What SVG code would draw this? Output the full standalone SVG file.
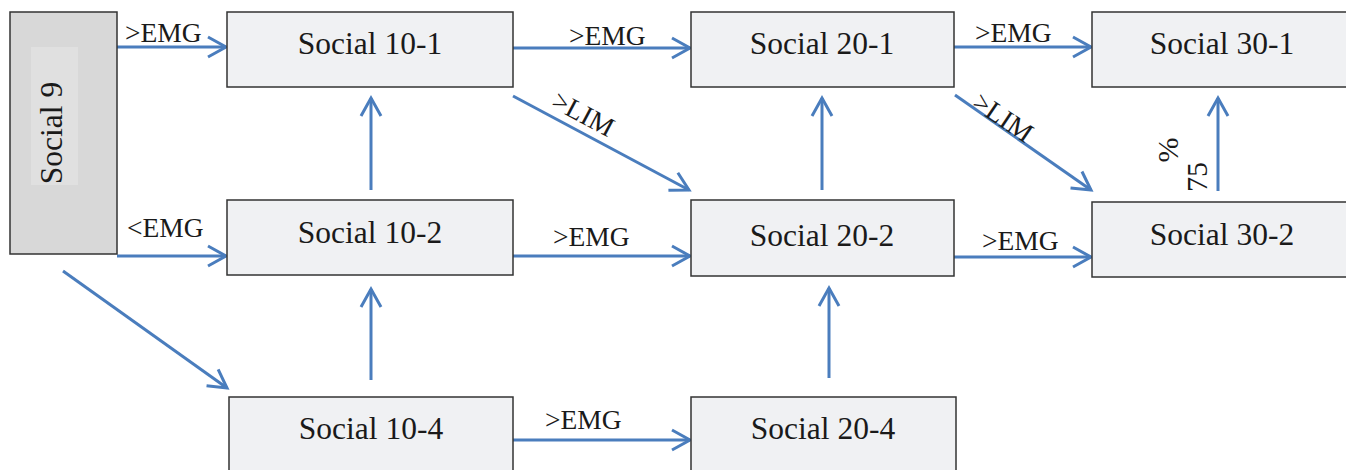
<svg xmlns="http://www.w3.org/2000/svg" width="1346" height="470" viewBox="0 0 1346 470">
<style>
.box{fill:#f0f1f3;stroke:#333;stroke-width:1.5}
.nt{font-family:"Liberation Serif",serif;font-size:31.5px;fill:#1a1a1a;text-anchor:middle}
.lb{font-family:"Liberation Serif",serif;font-size:27.5px;fill:#1a1a1a}
.ar{stroke:#4a7dbd;stroke-width:3;fill:none;marker-end:url(#ah)}
</style>
<defs>
<marker id="ah" markerUnits="userSpaceOnUse" viewBox="-22 -13 26 26" markerWidth="26" markerHeight="26" refX="0" refY="0" orient="auto">
<path d="M-18,-10 L0,0 L-18,10" fill="none" stroke="#4a7dbd" stroke-width="3"/>
</marker>
</defs>
<rect width="1346" height="470" fill="#fff"/>
<g id="connectors">
<line class="ar" x1="117" y1="47" x2="226" y2="47"/>
<line class="ar" x1="117" y1="256" x2="226" y2="256"/>
<line class="ar" x1="63" y1="271" x2="227" y2="388"/>
<line class="ar" x1="371" y1="190" x2="371" y2="98"/>
<line class="ar" x1="371" y1="380" x2="371" y2="289"/>
<line class="ar" x1="513" y1="48" x2="690" y2="48"/>
<line class="ar" x1="513" y1="96" x2="689" y2="190"/>
<line class="ar" x1="513" y1="256" x2="690" y2="256"/>
<line class="ar" x1="513" y1="440" x2="690" y2="440"/>
<line class="ar" x1="822" y1="190" x2="822" y2="98"/>
<line class="ar" x1="829" y1="378" x2="829" y2="288"/>
<line class="ar" x1="954" y1="47" x2="1091" y2="47"/>
<line class="ar" x1="955" y1="95" x2="1091" y2="190"/>
<line class="ar" x1="954" y1="257" x2="1091" y2="257"/>
<line class="ar" x1="1218" y1="191" x2="1218" y2="98"/>
<text class="lb" x="125" y="42">&gt;EMG</text>
<text class="lb" x="127" y="237">&lt;EMG</text>
<text class="lb" x="569" y="45">&gt;EMG</text>
<text class="lb" x="553" y="246">&gt;EMG</text>
<text class="lb" x="545" y="429">&gt;EMG</text>
<text class="lb" x="975" y="42">&gt;EMG</text>
<text class="lb" x="982" y="250">&gt;EMG</text>
<text class="lb" text-anchor="middle" transform="translate(579,122) rotate(28)">&gt;LIM</text>
<text class="lb" text-anchor="middle" transform="translate(998,125) rotate(34)">&gt;LIM</text>
<text class="lb" style="font-size:30px" text-anchor="middle" transform="translate(1207,177) rotate(-90)">75</text>
<text class="lb" style="font-size:30px" text-anchor="middle" transform="translate(1178,150) rotate(-90)">%</text>
</g>
<g id="n9">
<rect x="10" y="12" width="107" height="242" fill="#d8d8d8" stroke="#333" stroke-width="1.5"/>
<rect x="31" y="47" width="47" height="138" fill="#e0e0e0"/>
<text class="nt" transform="translate(62,133) rotate(-90)">Social 9</text>
</g>
<g id="n101"><rect class="box" x="227" y="12" width="286" height="75"/><text class="nt" x="370" y="54">Social 10-1</text></g>
<g id="n102"><rect class="box" x="227" y="200" width="286" height="75"/><text class="nt" x="370" y="243">Social 10-2</text></g>
<g id="n104"><rect class="box" x="229" y="397" width="284" height="80"/><text class="nt" x="371" y="439">Social 10-4</text></g>
<g id="n201"><rect class="box" x="691" y="12" width="263" height="75"/><text class="nt" x="822" y="54">Social 20-1</text></g>
<g id="n202"><rect class="box" x="691" y="200" width="263" height="76"/><text class="nt" x="822" y="246">Social 20-2</text></g>
<g id="n204"><rect class="box" x="691" y="397" width="265" height="80"/><text class="nt" x="823" y="439">Social 20-4</text></g>
<g id="n301"><rect class="box" x="1092" y="12" width="262" height="75"/><text class="nt" x="1222" y="54">Social 30-1</text></g>
<g id="n302"><rect class="box" x="1092" y="202" width="262" height="75"/><text class="nt" x="1222" y="245">Social 30-2</text></g>
</svg>
